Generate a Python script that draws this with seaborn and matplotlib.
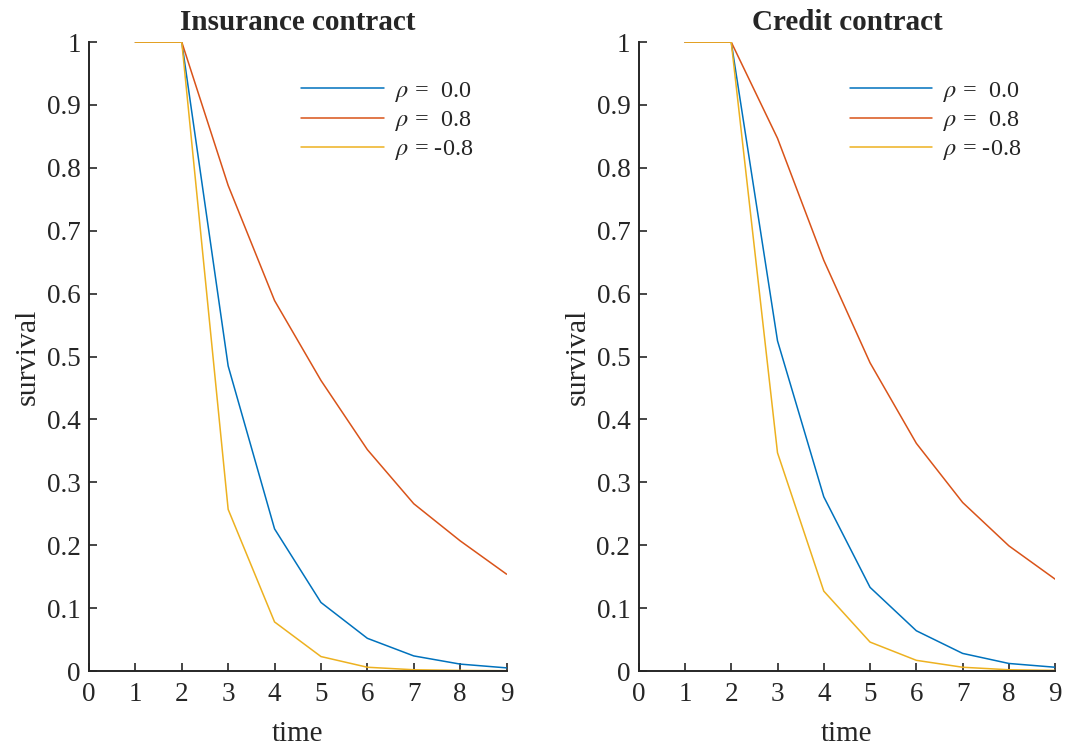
import numpy as np
import pandas as pd
import matplotlib
matplotlib.use("Agg")
import matplotlib.pyplot as plt
import seaborn as sns

time = [1, 2, 3, 4, 5, 6, 7, 8, 9]
labels = [r"$\rho$ =  0.0", r"$\rho$ =  0.8", r"$\rho$ = -0.8"]

ins_rho00 = [1, 1, 0.485, 0.226, 0.109, 0.052, 0.024, 0.011, 0.005]
ins_rho08 = [1, 1, 0.772, 0.589, 0.462, 0.352, 0.266, 0.207, 0.154]
ins_rhom08 = [1, 1, 0.257, 0.078, 0.023, 0.006, 0.002, 0.001, 0.0005]

cred_rho00 = [1, 1, 0.525, 0.277, 0.133, 0.064, 0.028, 0.012, 0.006]
cred_rho08 = [1, 1, 0.847, 0.653, 0.490, 0.362, 0.268, 0.199, 0.146]
cred_rhom08 = [1, 1, 0.347, 0.127, 0.046, 0.017, 0.006, 0.002, 0.001]

titles = ["Insurance contract", "Credit contract"]
xticks = [0, 1, 2, 3, 4, 5, 6, 7, 8, 9]
yticks = [0, 0.1, 0.2, 0.3, 0.4, 0.5, 0.6, 0.7, 0.8, 0.9, 1]
yticklabels = ["0", "0.1", "0.2", "0.3", "0.4", "0.5", "0.6", "0.7", "0.8", "0.9", "1"]
colors = ["#0072BD", "#D95319", "#EDB120"]

sns.set_theme(style="ticks")
plt.rcParams["font.family"] = ["Liberation Serif", "DejaVu Serif"]
plt.rcParams["mathtext.fontset"] = "stix"

def make_df(series):
    rows = []
    for lab, vals in zip(labels, series):
        for t, v in zip(time, vals):
            rows.append({"time": t, "survival": v, "rho": lab})
    return pd.DataFrame(rows)

fig = plt.figure(figsize=(10.68, 7.51), dpi=100)
ax1 = fig.add_axes([0.0833, 0.1065, 0.391, 0.8375])
ax2 = fig.add_axes([0.598, 0.1065, 0.390, 0.8375])

datasets = [[ins_rho00, ins_rho08, ins_rhom08], [cred_rho00, cred_rho08, cred_rhom08]]
for ax, series, title in zip([ax1, ax2], datasets, titles):
    df = make_df(series)
    sns.lineplot(data=df, x="time", y="survival", hue="rho", palette=colors,
                 hue_order=labels, ax=ax, linewidth=1.1)
    ax.set_xlim(0, 9)
    ax.set_ylim(0, 1)
    ax.set_xticks(xticks)
    ax.set_xticklabels([str(x) for x in xticks])
    ax.set_yticks(yticks)
    ax.set_yticklabels(yticklabels)
    ax.tick_params(direction="in", length=6, width=1.2, labelsize=19.5, colors="#262626")
    ax.tick_params(axis="y", pad=6)
    ax.tick_params(axis="x", pad=8)
    for s in ["top", "right"]:
        ax.spines[s].set_visible(False)
    for s in ["left", "bottom"]:
        ax.spines[s].set_linewidth(1.4)
        ax.spines[s].set_color("#262626")
    ax.set_xlabel("time", fontsize=21, color="#262626", labelpad=10)
    ax.set_ylabel("survival", fontsize=21.5, color="#262626", labelpad=4)
    ax.set_title(title, fontsize=21, fontweight="bold", pad=9)
    leg = ax.legend(loc="upper right", bbox_to_anchor=(0.972, 0.975), frameon=False,
                    fontsize=17.5, handlelength=3.4, handletextpad=0.45, labelspacing=0.22)
    for t in leg.get_texts():
        t.set_color("#262626")

fig.savefig("out.png", dpi=100)
